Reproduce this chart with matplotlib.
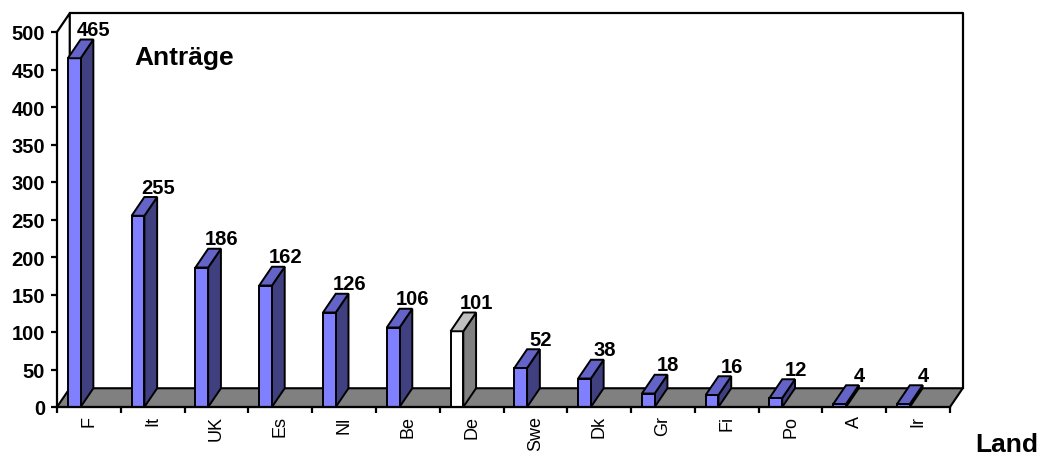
import numpy as np
import matplotlib.pyplot as plt
from matplotlib.patches import Polygon

# data
laender = ['F', 'It', 'UK', 'Es', 'Nl', 'Be', 'De', 'Swe', 'Dk', 'Gr', 'Fi', 'Po', 'A', 'Ir']
antraege = [465, 255, 186, 162, 126, 106, 101, 52, 38, 18, 16, 12, 4, 4]
highlight = 'De'

# pseudo 3d look
DX = 0.2      # depth offset in categories
DY = 25       # depth offset in value units
FRONT = '#8080FF'
SIDE = '#404080'
TOP = '#6464C8'

plt.rcParams['font.family'] = ['Liberation Sans', 'DejaVu Sans']

fig = plt.figure(figsize=(10.41, 4.56), dpi=100)
ax = fig.add_axes([57 / 1041, 48 / 456, 893 / 1041, 375 / 456])
n = len(laender)
ax.set_xlim(0, n)
ax.set_ylim(0, 500)

# floor
floor = Polygon([(0, 0), (n, 0), (n + DX, DY), (DX, DY)], closed=True,
                facecolor='#808080', edgecolor='black', lw=1.5, zorder=1, clip_on=False)
ax.add_patch(floor)

# back wall outline
ax.plot([0, DX, DX], [500, 500 + DY, DY], color='black', lw=1.6, clip_on=False, zorder=0.5)
ax.plot([DX, n + DX, n + DX], [500 + DY, 500 + DY, DY], color='black', lw=1.6,
        clip_on=False, zorder=0.5)

for i, (land, v) in enumerate(zip(laender, antraege)):
    if land == highlight:
        cf, cs, ct = 'white', '#808080', '#C0C0C0'
    else:
        cf, cs, ct = FRONT, SIDE, TOP
    x0 = i + 0.17
    x1 = x0 + 0.2
    z = 2 + i * 0.01
    front = Polygon([(x0, 0), (x1, 0), (x1, v), (x0, v)], facecolor=cf,
                    edgecolor='black', lw=1.4, zorder=z, clip_on=False)
    side = Polygon([(x1, 0), (x1 + DX, DY), (x1 + DX, v + DY), (x1, v)], facecolor=cs,
                   edgecolor='black', lw=1.4, zorder=z, clip_on=False)
    top = Polygon([(x0, v), (x1, v), (x1 + DX, v + DY), (x0 + DX, v + DY)], facecolor=ct,
                  edgecolor='black', lw=1.4, zorder=z, clip_on=False)
    for p in (side, front, top):
        ax.add_patch(p)
    ax.text(i + 0.58, v + DY + 6, str(v), ha='center', va='baseline',
            fontsize=14.5, fontweight='bold', zorder=5, clip_on=False)

# axes styling
for s in ('top', 'right'):
    ax.spines[s].set_visible(False)
for s in ('left', 'bottom'):
    ax.spines[s].set_linewidth(1.6)
    ax.spines[s].set_zorder(3)

ax.set_yticks(np.arange(0, 501, 50))
ax.tick_params(axis='y', direction='out', length=4.5, width=1.6, pad=4)
for t in ax.get_yticklabels():
    t.set_fontweight('bold')
    t.set_fontsize(14.5)

ax.set_xticks(np.arange(0, n + 1))
ax.set_xticklabels([])
ax.set_xticks(np.arange(n) + 0.5, minor=True)
ax.set_xticklabels(laender, minor=True, rotation=90,
                   family=['Liberation Sans Narrow', 'Liberation Sans'], fontsize=13)
ax.tick_params(axis='x', which='major', direction='out', length=4.5, width=1.6)
ax.tick_params(axis='x', which='minor', length=0, pad=6)

ax.text(1.22, 457, 'Anträge', fontsize=19, fontweight='bold', ha='left', va='baseline')
fig.text(975 / 1041, 1 - 452 / 456, 'Land', fontsize=19, fontweight='bold',
         ha='left', va='baseline')

fig.savefig('out.png', dpi=100)
